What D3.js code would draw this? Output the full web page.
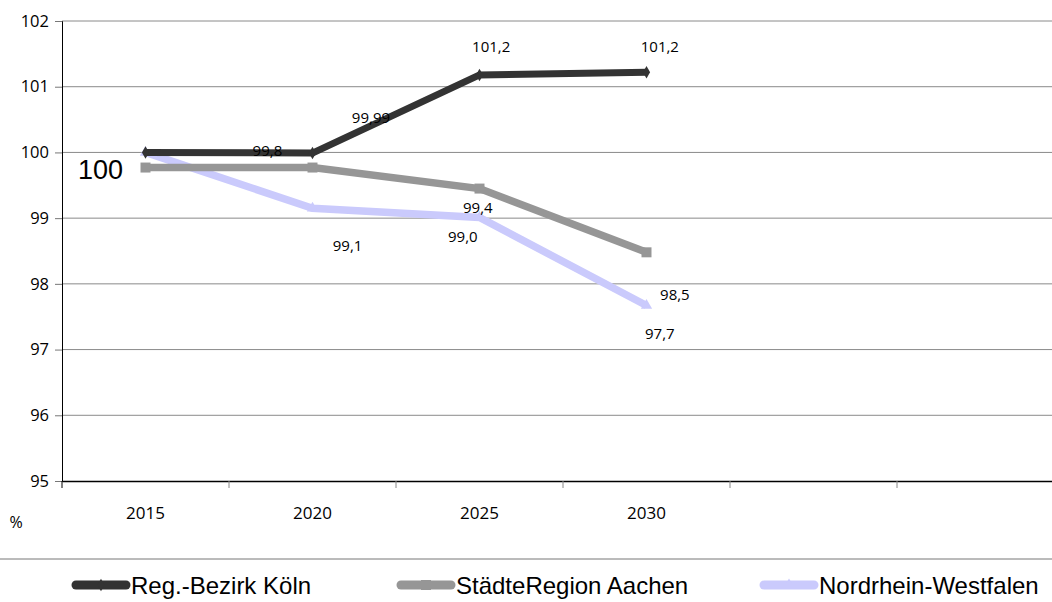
<!DOCTYPE html>
<html>
<head>
<meta charset="utf-8">
<script src="https://cdn.jsdelivr.net/npm/d3@7"></script>
<style>
  body { margin: 0; background: #fff; }
  svg { display: block; }
</style>
</head>
<body>
<script>
// categories and series
const years = ["2015", "2020", "2025", "2030", "", ""];
const koeln = [100, 99.99, 101.18, 101.22];
const aachen = [99.77, 99.77, 99.45, 98.48];
const nrw = [100, 99.15, 99.01, 97.67];
const yTicks = [95, 96, 97, 98, 99, 100, 101, 102];

// data labels (text, category index, value where they sit)
const labelText = ["100", "99,8", "99,99", "101,2", "101,2", "99,4", "99,1", "99,0", "98,5", "97,7"];
const labelIdx = [-0.27, 0.73, 1.35, 2.07, 3.08, 1.99, 1.21, 1.90, 3.17, 3.08];
const labelVal = [99.74, 100.03, 100.53, 101.61, 101.61, 99.16, 98.58, 98.71, 97.83, 97.24];

const W = 1052, H = 602;
const plotLeft = 62, plotTop = 21, plotBottom = 481;
const band = 167;

const svg = d3.select("body").append("svg")
  .attr("width", W)
  .attr("height", H);

const x = d3.scaleBand()
  .domain(d3.range(years.length))
  .range([plotLeft, plotLeft + band * years.length])
  .paddingInner(0).paddingOuter(0);

const y = d3.scaleLinear()
  .domain([95, 102])
  .range([plotBottom, plotTop]);

const xi = i => x(0) + x.bandwidth() / 2 + i * x.step();

const numFont = "'Open Sans', 'DejaVu Sans', sans-serif";

// gridlines
svg.append("g")
  .selectAll("line")
  .data(yTicks.slice(1))
  .enter().append("line")
  .attr("x1", plotLeft).attr("x2", W)
  .attr("y1", d => y(d)).attr("y2", d => y(d))
  .attr("stroke", "#8a8a8a")
  .attr("stroke-width", 1);

// y axis
const yAxis = svg.append("g")
  .attr("transform", `translate(${plotLeft},0)`)
  .call(d3.axisLeft(y).tickValues(yTicks).tickSize(7).tickPadding(6).tickFormat(d3.format("d")));
yAxis.select(".domain").attr("stroke", "#000");
yAxis.selectAll(".tick line").attr("stroke", "#777");
yAxis.selectAll("text")
  .attr("font-family", numFont)
  .attr("font-size", 16.5)
  .attr("fill", "#000");

// x axis
const xAxis = svg.append("g")
  .attr("transform", `translate(0,${plotBottom})`)
  .call(d3.axisBottom(x).tickSize(0).tickPadding(26).tickFormat(i => years[i]));
xAxis.select(".domain").attr("stroke", "#000").attr("stroke-width", 1.3);
xAxis.selectAll("text")
  .attr("font-family", numFont)
  .attr("font-size", 17)
  .attr("fill", "#000");

// category boundary ticks
svg.append("g")
  .selectAll("line")
  .data(d3.range(years.length))
  .enter().append("line")
  .attr("x1", d => x(d)).attr("x2", d => x(d))
  .attr("y1", plotBottom).attr("y2", plotBottom + 7)
  .attr("stroke", d => d === 0 ? "#000" : "#888");

svg.append("text")
  .attr("x", 16).attr("y", 528)
  .attr("text-anchor", "middle")
  .attr("font-family", numFont)
  .attr("font-size", 16)
  .text("%");

// series
const series = [
  { name: "Reg.-Bezirk Köln", values: koeln, color: "#333333", width: 7, symbol: d3.symbolDiamond, size: 45 },
  { name: "StädteRegion Aachen", values: aachen, color: "#969696", width: 7.5, symbol: d3.symbolSquare, size: 100 },
  { name: "Nordrhein-Westfalen", values: nrw, color: "#cacafc", width: 7.5, symbol: d3.symbolTriangle, size: 55 }
];

const line = d3.line()
  .x((d, i) => xi(i))
  .y(d => y(d));

// draw NRW first, then Aachen, then Köln on top
[series[2], series[1], series[0]].forEach(s => {
  svg.append("path")
    .datum(s.values)
    .attr("d", line)
    .attr("fill", "none")
    .attr("stroke", s.color)
    .attr("stroke-width", s.width)
    .attr("stroke-linejoin", "miter");
  svg.append("g")
    .selectAll("path")
    .data(s.values)
    .enter().append("path")
    .attr("transform", (d, i) => `translate(${xi(i)},${y(d)})`)
    .attr("d", d3.symbol().type(s.symbol).size(s.size))
    .attr("fill", s.color);
});

// data labels
svg.append("g")
  .selectAll("text")
  .data(labelText)
  .enter().append("text")
  .attr("x", (d, i) => xi(labelIdx[i]))
  .attr("y", (d, i) => y(labelVal[i]))
  .attr("dy", "0.35em")
  .attr("text-anchor", "middle")
  .attr("font-family", (d, i) => i === 0 ? "Arial, 'Liberation Sans', sans-serif" : numFont)
  .attr("font-size", (d, i) => i === 0 ? 27 : 15)
  .attr("fill", "#000")
  .text(d => d);

// separator above legend
svg.append("line")
  .attr("x1", 0).attr("x2", W)
  .attr("y1", 559).attr("y2", 559)
  .attr("stroke", "#777");

// legend
const legendX = [72, 397, 760];
const lg = svg.append("g")
  .selectAll("g")
  .data(series)
  .enter().append("g")
  .attr("transform", (d, i) => `translate(${legendX[i]},585)`);

lg.append("line")
  .attr("x1", 4).attr("x2", 54)
  .attr("stroke", d => d.color)
  .attr("stroke-width", 9)
  .attr("stroke-linecap", "round");
lg.append("path")
  .attr("transform", "translate(29,0)")
  .attr("d", d => d3.symbol().type(d.symbol).size(d.size)())
  .attr("fill", d => d.color);
lg.append("text")
  .attr("x", 59)
  .attr("dy", "0.36em")
  .attr("font-family", "Arial, 'Liberation Sans', sans-serif")
  .attr("font-size", 24)
  .attr("fill", "#000")
  .text(d => d.name);
</script>
</body>
</html>
